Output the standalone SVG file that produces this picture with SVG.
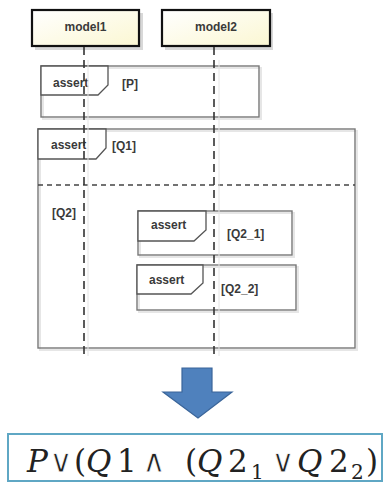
<svg xmlns="http://www.w3.org/2000/svg" width="385" height="486" viewBox="0 0 385 486">
<defs>
<linearGradient id="lg" x1="0" y1="0" x2="1" y2="1">
<stop offset="0" stop-color="#ffffff"/>
<stop offset="1" stop-color="#fbf7d2"/>
</linearGradient>
</defs>
<style>
.head{fill:url(#lg);stroke:#111;stroke-width:2.2}
.shadow{fill:#d8d8d8}
.lbl{font-family:"Liberation Sans",Arial,sans-serif;font-size:12px;font-weight:bold;fill:#3a3a3a}
.frame{fill:none;stroke:#777;stroke-width:1.4}
.fshadow{fill:none;stroke:#e6e6e6;stroke-width:2}
.tab{fill:#fff;stroke:#555;stroke-width:1.3}
.life{stroke:#333;stroke-width:1.6;stroke-dasharray:8 5;fill:none}
.ghost{stroke:#e4e4e4;stroke-width:1;fill:none}
.sep{stroke:#444;stroke-width:1.3;stroke-dasharray:5 4;fill:none}
.math{font-family:"DejaVu Serif","Liberation Serif",serif;font-size:31px;fill:#222}
.op{font-family:"DejaVu Sans",sans-serif;font-size:32px;stroke:#fff;stroke-width:0.8}
.it{font-style:italic}
.sub{font-size:20px}
</style>
<rect width="385" height="486" fill="#fff"/>

<g id="model1">
<rect class="shadow" x="35" y="13" width="108" height="37"/>
<rect class="head" x="32" y="10" width="107" height="36"/>
<text class="lbl" x="85.5" y="31" text-anchor="middle">model1</text>
</g>
<g id="model2">
<rect class="shadow" x="165" y="13" width="108" height="37"/>
<rect class="head" x="162" y="10" width="108" height="36"/>
<text class="lbl" x="216" y="31" text-anchor="middle">model2</text>
</g>

<g id="frame-P">
<rect class="fshadow" x="43" y="68" width="218" height="51"/>
<rect class="frame" x="41" y="66" width="218" height="51"/>
<path class="tab" d="M41,66 H108 V85 L98,95 H41 Z"/>
<text class="lbl" x="53" y="87">assert</text>
<text class="lbl" x="122" y="88">[P]</text>
</g>

<g id="frame-Q">
<rect class="fshadow" x="40" y="131" width="317" height="219"/>
<rect class="frame" x="38" y="129" width="317" height="219"/>
<path class="tab" d="M38,129 H106 V148 L96,159 H38 Z"/>
<text class="lbl" x="51" y="149">assert</text>
<text class="lbl" x="112" y="150">[Q1]</text>
<line class="sep" x1="38" y1="185" x2="355" y2="185"/>
<text class="lbl" x="52" y="217">[Q2]</text>
</g>

<g id="frame-Q2_1">
<rect class="fshadow" x="140" y="213" width="154" height="44"/>
<rect class="frame" x="138" y="211" width="154" height="44"/>
<path class="tab" d="M138,211 H206 V230 L194,241 H138 Z"/>
<text class="lbl" x="151" y="229">assert</text>
<text class="lbl" x="227" y="238">[Q2_1]</text>
</g>

<g id="frame-Q2_2">
<rect class="fshadow" x="139" y="267" width="159" height="45"/>
<rect class="frame" x="137" y="265" width="159" height="45"/>
<path class="tab" d="M137,265 H203 V283 L191,294 H137 Z"/>
<text class="lbl" x="149" y="284">assert</text>
<text class="lbl" x="221" y="293">[Q2_2]</text>
</g>

<g id="connectors">
<line class="ghost" x1="88" y1="60" x2="88" y2="356"/>
<line class="ghost" x1="219" y1="60" x2="219" y2="356"/>
<line class="life" x1="84" y1="47" x2="84" y2="357"/>
<line class="life" x1="214" y1="47" x2="214" y2="357"/>
</g>

<g id="arrow">
<path d="M182,368 H212 V392 H232 L198,418 L163,392 H182 Z" fill="#4f81bd" stroke="#3a659a" stroke-width="1.2"/>
</g>

<g id="formula">
<rect x="8" y="434" width="374" height="47" fill="#fff" stroke="#5fa7c4" stroke-width="2"/>
<text class="math" y="472"><tspan class="it" x="27">P</tspan><tspan class="op" x="61" text-anchor="middle">∨</tspan><tspan x="74">(</tspan><tspan class="it" x="86">Q</tspan><tspan x="117">1</tspan><tspan class="op" x="154" text-anchor="middle">∧</tspan><tspan x="185">(</tspan><tspan class="it" x="197">Q</tspan><tspan x="228">2</tspan><tspan class="sub" x="251" y="479">1</tspan><tspan class="op" x="283" y="472" text-anchor="middle">∨</tspan><tspan class="it" x="297">Q</tspan><tspan x="329">2</tspan><tspan class="sub" x="351" y="479">2</tspan><tspan x="366" y="472">)</tspan></text>
</g>
</svg>
